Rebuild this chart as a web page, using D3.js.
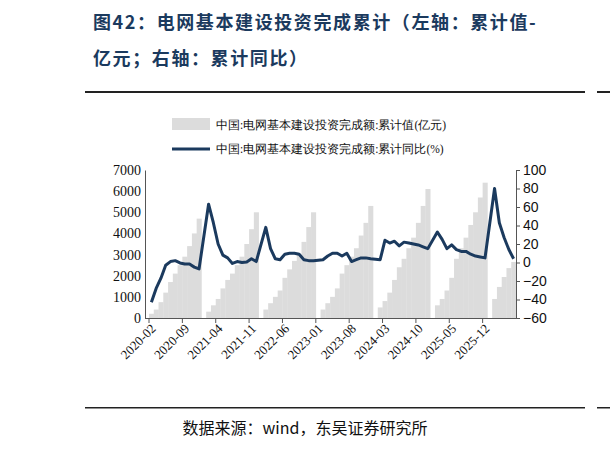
<!DOCTYPE html>
<html><head><meta charset="utf-8">
<script src="https://cdn.jsdelivr.net/npm/d3@7"></script>
<style>
body{margin:0;background:#fff;}
text{font-family:"Liberation Serif",serif;}
</style></head>
<body><svg id="chart" width="610" height="449"></svg>
<script>
// cumulative value (亿元), Feb..Dec per year, Jan has no release
const years = [2020, 2021, 2022, 2023, 2024, 2025, 2026];
const cumValue = [
    [200, 400, 750, 1200, 1700, 2100, 2500, 2900, 3400, 4000, 4700],
    [300, 600, 900, 1400, 1800, 2100, 2500, 2900, 3500, 4200, 5000],
    [400, 700, 1000, 1300, 1900, 2300, 2700, 3000, 3600, 4300, 5000],
    [400, 700, 1000, 1400, 2100, 2500, 2900, 3300, 3900, 4500, 5300],
    [500, 800, 1200, 1800, 2400, 2800, 3300, 3800, 4500, 5300, 6100],
    [600, 900, 1300, 1900, 2800, 3300, 3800, 4400, 5000, 5700, 6400],
    [900, 1470, 1940, 2360, 2650]
];
const cumYoY = [
    [-43, -28, -17, -3, 1, 2, -0.5, -1.7, -1.7, -5, -7],
    [63, 43, 20, 8, 5, -1, 1, 0, 0.6, 4, 1],
    [38, 15, 4, 3, 9, 10, 10, 9, 3, 2, 2],
    [3, 7, 10, 10, 7, 10, 1, 3, 5, 5, 4],
    [3, 24, 21, 23, 18, 22, 21, 20, 19, 17, 15],
    [33, 25, 15, 19, 14, 12, 12, 9, 7, 6, 5],
    [80, 43, 27, 14, 4]
];
const tickEvery = 7;

// month rows, including empty Januaries
const rows = [];
years.forEach((y, yi) => {
    if (yi > 0) rows.push({key: y + '-01', v: null, p: null});
    cumValue[yi].forEach((v, mi) => {
        rows.push({key: y + '-' + String(mi + 2).padStart(2, '0'), v: v, p: cumYoY[yi][mi]});
    });
});

const svg = d3.select('#chart');
const navy = '#1b3a5e';

// title
svg.append('text').attr('x', 93).attr('y', 29).attr('fill', navy)
    .style('font-family', '"Noto Sans CJK SC"').style('font-size', '18px').style('font-weight', 'bold')
    .style('letter-spacing', '1.6px')
    .text('图42：电网基本建设投资完成累计（左轴：累计值-');
svg.append('text').attr('x', 93).attr('y', 65).attr('fill', navy)
    .style('font-family', '"Noto Sans CJK SC"').style('font-size', '18px').style('font-weight', 'bold')
    .style('letter-spacing', '1.6px')
    .text('亿元；右轴：累计同比）');
svg.append('rect').attr('x', 85).attr('y', 91).attr('width', 500).attr('height', 2).attr('fill', '#222');
svg.append('rect').attr('x', 85).attr('y', 407).attr('width', 500).attr('height', 1.5).attr('fill', '#222');
svg.append('rect').attr('x', 597).attr('y', 91).attr('width', 13).attr('height', 2).attr('fill', '#222');
svg.append('rect').attr('x', 597).attr('y', 407).attr('width', 13).attr('height', 1.5).attr('fill', '#222');
svg.append('text').attr('x', 305).attr('y', 434).attr('text-anchor', 'middle')
    .style('font-family', '"Noto Sans CJK SC"').style('font-size', '16px').attr('fill', '#111')
    .text('数据来源：wind，东吴证券研究所');

const x0 = 149, x1 = 516, yTop = 170, yBot = 318;
const x = d3.scaleBand().domain(rows.map(d => d.key)).range([x0, x1]).padding(0);
const yL = d3.scaleLinear().domain([0, 7000]).range([yBot, yTop]);
const yR = d3.scaleLinear().domain([-60, 100]).range([yBot, yTop]);

svg.append('g').selectAll('rect').data(rows.filter(d => d.v !== null)).join('rect')
    .attr('x', d => x(d.key)).attr('width', x.bandwidth() + 0.3)
    .attr('y', d => yL(d.v)).attr('height', d => yBot - yL(d.v))
    .attr('fill', '#dcdcdc');

const line = d3.line().x(d => x(d.key) + x.bandwidth() / 2).y(d => yR(d.p));
svg.append('path').datum(rows.filter(d => d.p !== null)).attr('d', line)
    .attr('fill', 'none').attr('stroke', navy).attr('stroke-width', 3).attr('stroke-linejoin', 'round');

const gl = svg.append('g').attr('transform', `translate(${x0 - 4},0)`)
    .call(d3.axisLeft(yL).tickValues(d3.range(0, 7001, 1000)).tickFormat(d3.format('d')).tickSize(0).tickPadding(4));
gl.select('.domain').attr('stroke', '#555');
gl.selectAll('text').style('font-size', '14px').style('font-family', '"Liberation Serif"').attr('fill', '#111');

const gr = svg.append('g').attr('transform', `translate(${x1},0)`)
    .call(d3.axisRight(yR).tickValues(d3.range(-60, 101, 20)).tickSize(4).tickPadding(3));
gr.selectAll('path,line').attr('stroke', '#555');
gr.selectAll('text').style('font-size', '14px').style('font-family', '"Liberation Sans"').attr('fill', '#111');

const tickKeys = rows.map(d => d.key).filter((k, i) => i % tickEvery === 0);
const gx = svg.append('g').attr('transform', `translate(0,${yBot})`)
    .call(d3.axisBottom(x).tickValues(tickKeys).tickSize(5).tickPadding(2).offset(0));
gx.selectAll('.tick').attr('transform', d => `translate(${x(d)},0)`);
gx.select('.domain').attr('d', `M${x0 - 4},0.5H${x1}`).attr('stroke', '#555');
gx.selectAll('line').attr('stroke', '#555');
gx.selectAll('text').style('font-size', '13px').style('font-family', '"Liberation Serif"').attr('fill', '#111')
    .attr('text-anchor', 'end').attr('dx', '-0.2em').attr('dy', '0.5em').attr('transform', 'rotate(-45)');

// legend
const lg = svg.append('g').style('font-family', '"Noto Sans CJK SC"').style('font-size', '11.5px');
lg.append('rect').attr('x', 172).attr('y', 118).attr('width', 38).attr('height', 12).attr('fill', '#dcdcdc');
lg.append('text').attr('x', 216).attr('y', 129).attr('fill', '#111').text('中国:电网基本建设投资完成额:累计值(亿元)');
lg.append('line').attr('x1', 172).attr('x2', 210).attr('y1', 149).attr('y2', 149).attr('stroke', navy).attr('stroke-width', 3);
lg.append('text').attr('x', 216).attr('y', 153).attr('fill', '#111').text('中国:电网基本建设投资完成额:累计同比(%)');
</script></body></html>
